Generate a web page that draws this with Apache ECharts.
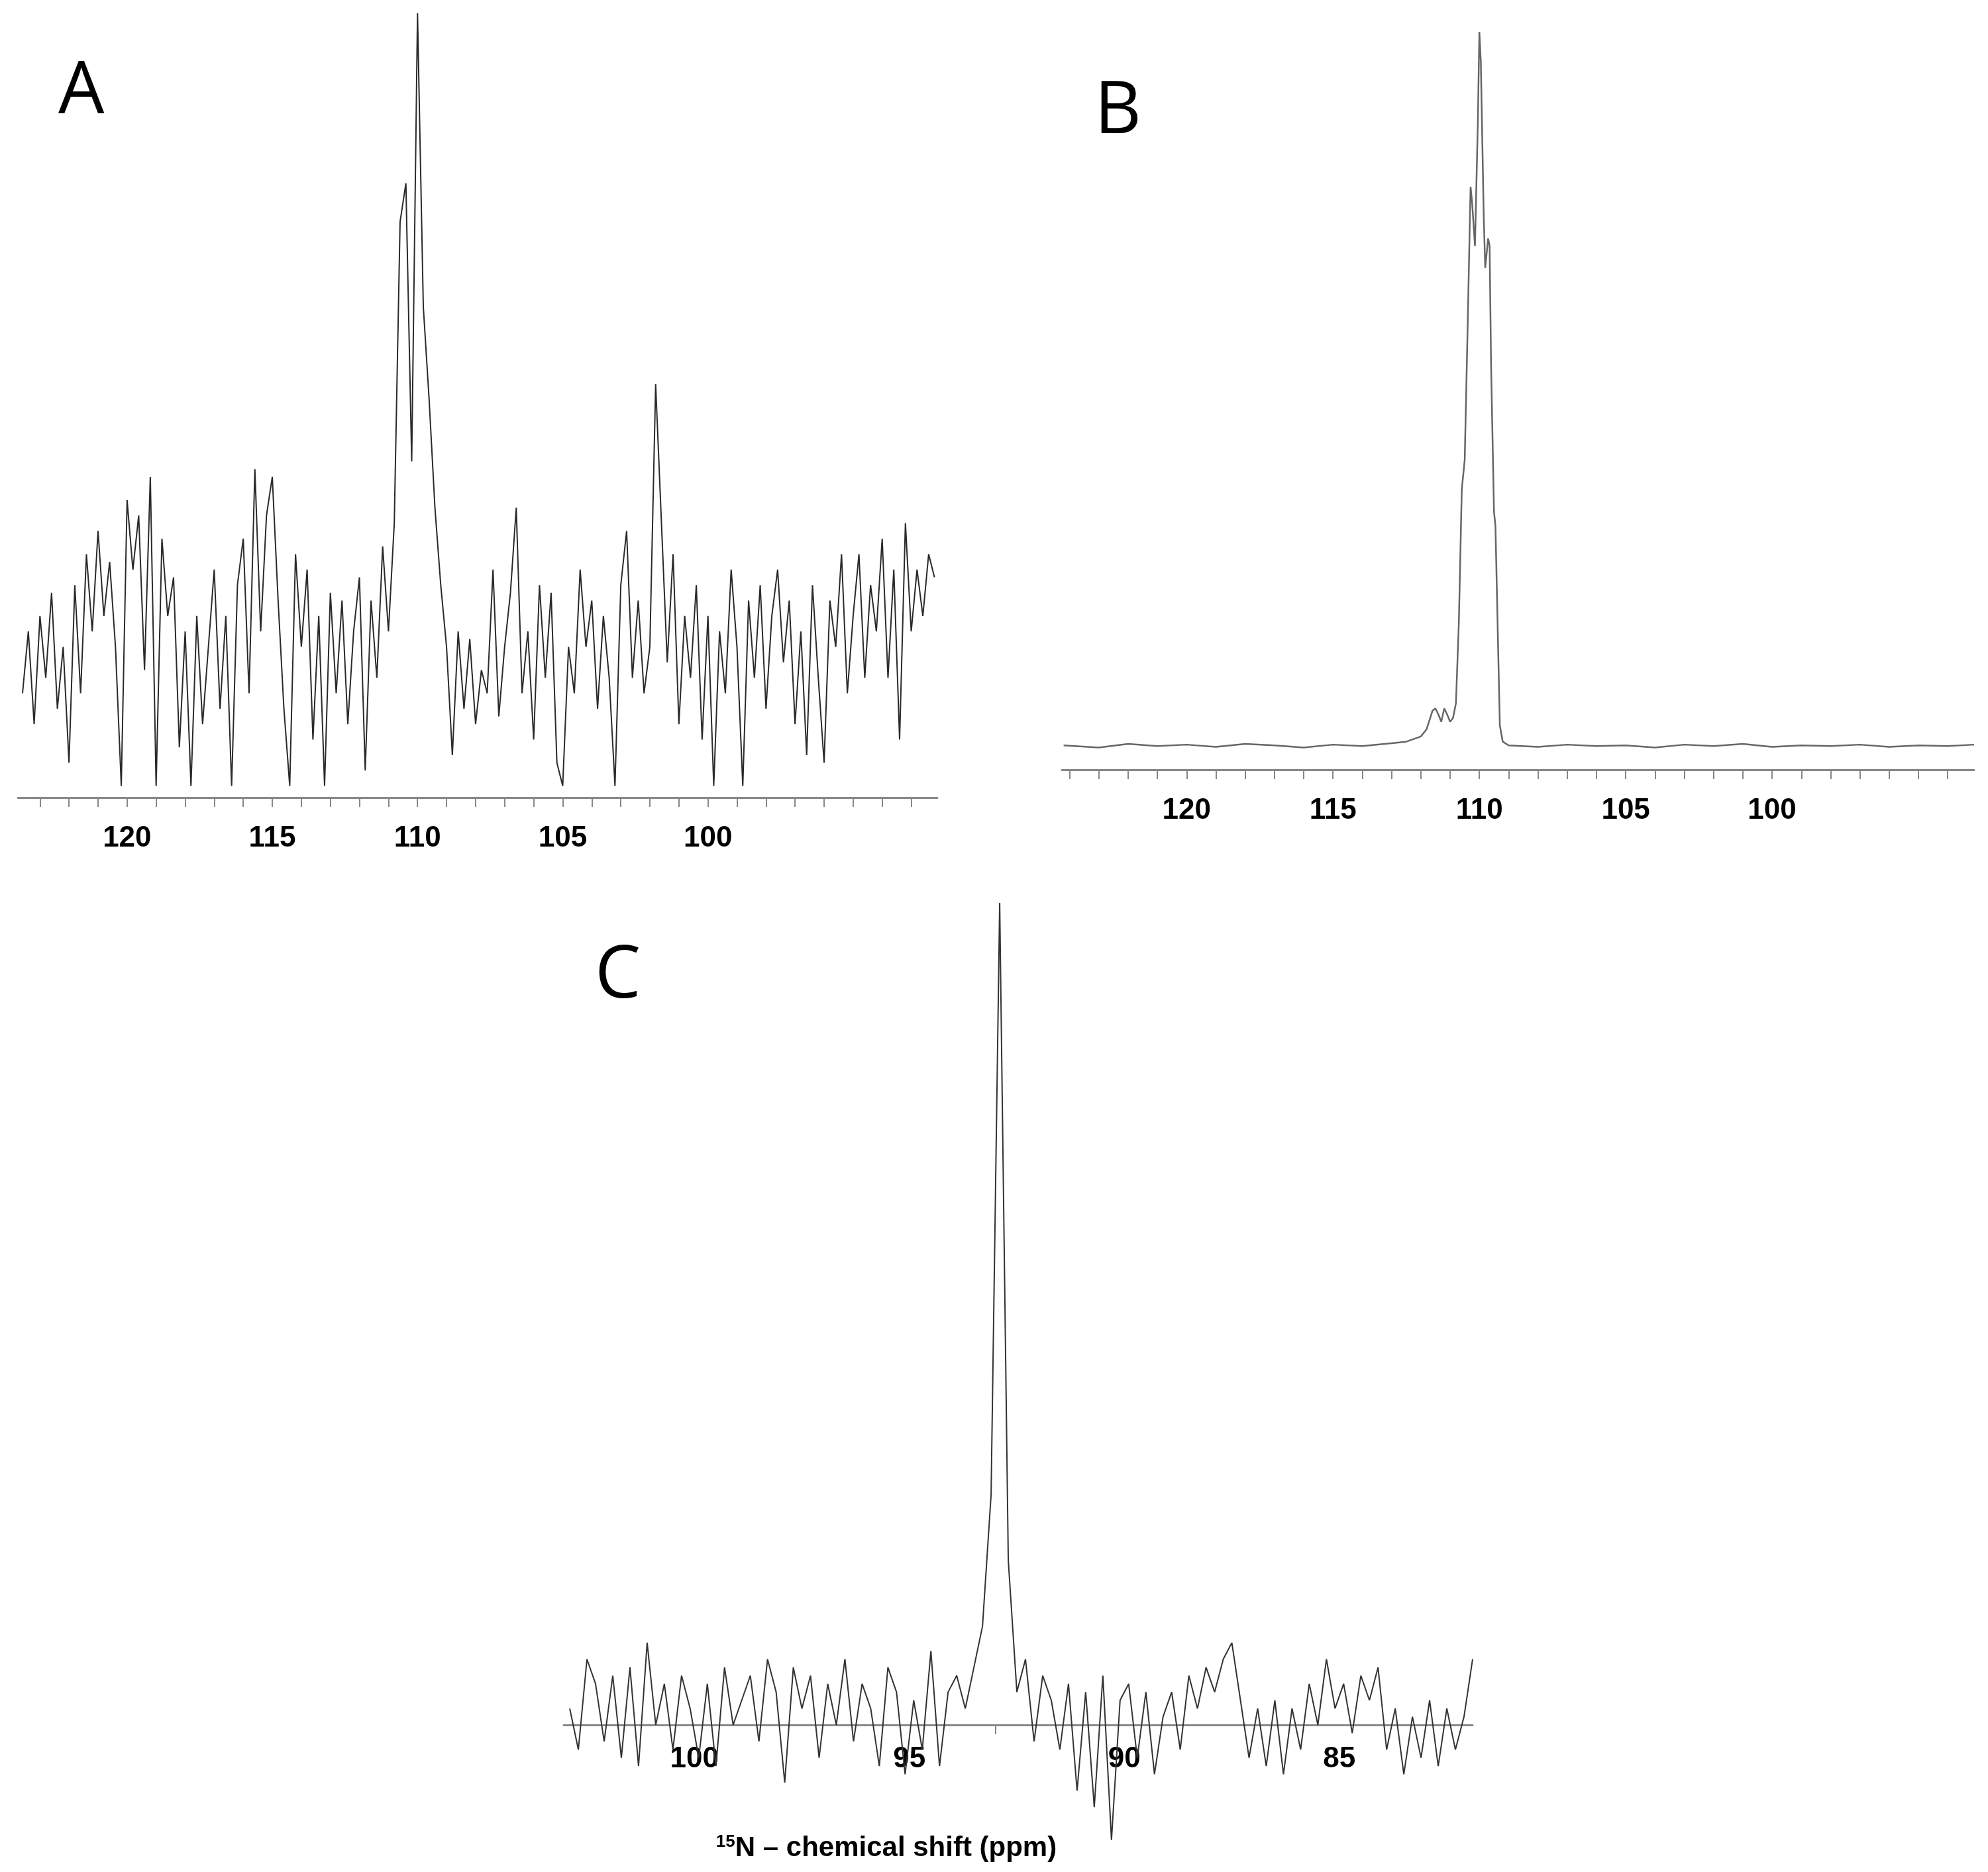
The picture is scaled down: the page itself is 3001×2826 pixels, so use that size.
<!DOCTYPE html>
<html>
<head>
<meta charset="utf-8">
<script src="https://cdn.jsdelivr.net/npm/echarts@6/dist/echarts.min.js"></script>
<style>html,body{margin:0;padding:0;background:#fff}#chart{width:3001px;height:2826px}</style>
</head>
<body>
<div id="chart"></div>
<script>
// spectrum A: sampled every 0.2 ppm starting at 123.6 ppm
const aStart = 123.6, aStep = 0.2;
const aValues = [12,20,8,22,14,25,10,18,3,26,12,30,20,33,22,29,18,0,37,28,
  35,15,40,0,32,22,27,5,20,0,22,8,18,28,10,22,0,26,32,12,
  41,20,35,40,24,10,0,30,18,28,6,22,0,25,12,24,8,20,27,2,
  24,14,31,20,34,73,78,42,100,62,50,36,26,18,4,20,10,19,8,15,
  12,28,9,18,25,36,12,20,6,26,14,25,3,0,18,12,28,18,24,10,
  22,14,0,26,33,14,24,12,18,52,34,16,30,8,22,14,26,6,22,0,
  20,12,28,18,0,24,14,26,10,22,28,16,24,8,20,4,26,14,3,24,
  18,30,12,22,30,14,26,20,32,14,28,6,34,20,28,22,30,27];

// spectrum B: [ppm, intensity]
const bPoints = [[124.2,3.3],[123.0,3.0],[122.0,3.5],[121.0,3.2],[120.0,3.4],[119.0,3.1],[118.0,3.5],
  [117.0,3.3],[116.0,3.0],[115.0,3.4],[114.0,3.2],[113.0,3.6],[112.5,3.8],[112.0,4.5],[111.8,5.5],
  [111.6,8.0],[111.5,8.3],[111.4,7.5],[111.3,6.5],[111.2,8.3],[111.1,7.5],[111.0,6.5],[110.9,7.0],
  [110.8,9],[110.7,20],[110.6,38],[110.5,42],[110.4,60],[110.3,79],[110.25,77],[110.15,71],[110.05,88],
  [110.0,100],[109.95,96],[109.85,75],[109.8,68],[109.7,72],[109.65,71],[109.6,55],[109.5,35],
  [109.45,33],[109.35,15],[109.3,6],[109.2,3.8],[109.0,3.3],[108,3.1],[107,3.4],[106,3.2],[105,3.3],
  [104,3.0],[103,3.4],[102,3.2],[101,3.5],[100,3.1],[99,3.3],[98,3.2],[97,3.4],[96,3.1],[95,3.3],
  [94,3.2],[93.1,3.4]];

// spectrum C: sampled every 0.2 ppm starting at 102.9 ppm
const cStart = 102.9, cStep = 0.2;
const cValues = [2,-3,8,5,-2,6,-4,7,-5,10,0,5,-3,6,2,-4,5,-5,7,0,
  3,6,-2,8,4,-7,7,2,6,-4,5,0,8,-2,5,2,-5,7,4,-6,
  3,-3,9,-5,4,6,2,7,12,28,100,20,4,8,-2,6,3,-3,5,-8,
  4,-10,6,-14,3,5,-4,4,-6,1,4,-3,6,2,7,4,8,10,3,-4,
  2,-5,3,-6,2,-3,5,0,8,2,5,-1,6,3,7,-3,2,-6,1,-4,
  3,-5,2,-3,1,8];

const aTicks = [100,105,110,115,120];
const bTicks = [100,105,110,115,120];
const cTicks = [85,90,95,100];

const toPairs = (start, step, vals) => vals.map((v, i) => [+(start - i * step).toFixed(2), v]);

const range = (lo, hi) => { const r = []; for (let v = lo; v <= hi; v++) r.push(v); return r; };

function xAxisFor(idx, min, max, labels, ticks, margin) {
  return {
    gridIndex: idx, type: 'value', inverse: true, min: min, max: max,
    axisLine: {onZero: false, lineStyle: {color: '#888', width: 3}},
    axisTick: {show: true, customValues: ticks, length: 14, lineStyle: {color: '#888', width: 2}},
    axisLabel: {customValues: labels, margin: margin, fontSize: 44, fontWeight: 'bold', color: '#000', fontFamily: 'Liberation Sans'},
    splitLine: {show: false}
  };
}

const chart = echarts.init(document.getElementById('chart'), null, {renderer: 'canvas'});
chart.setOption({
  animation: false,
  backgroundColor: '#fff',
  grid: [
    {left: 27, top: 20, width: 1388, height: 1184},
    {left: 1603, top: 48, width: 1377, height: 1114},
    {left: 851, top: 1363, width: 1372, height: 1241}
  ],
  xAxis: [
    xAxisFor(0, 92.1, 123.76, aTicks, range(93, 123), 40),
    xAxisFor(1, 93.1, 124.26, bTicks, range(94, 124), 40),
    xAxisFor(2, 81.9, 103.04, cTicks, [93], 30)
  ],
  yAxis: [
    {gridIndex: 0, type: 'value', min: -1.5, max: 100, show: false},
    {gridIndex: 1, type: 'value', min: 0, max: 100, show: false},
    {gridIndex: 2, type: 'value', min: 0, max: 100, show: false}
  ],
  series: [
    {type: 'line', xAxisIndex: 0, yAxisIndex: 0, data: toPairs(aStart, aStep, aValues), showSymbol: false,
      lineStyle: {color: '#2a2a2a', width: 2}},
    {type: 'line', xAxisIndex: 1, yAxisIndex: 1, data: bPoints, showSymbol: false,
      lineStyle: {color: '#666', width: 2.5}},
    {type: 'line', xAxisIndex: 2, yAxisIndex: 2, data: toPairs(cStart, cStep, cValues), showSymbol: false,
      clip: false, lineStyle: {color: '#333', width: 2}}
  ],
  graphic: [
    {type: 'text', left: 88, top: 85, style: {text: 'A', fontSize: 110, fontFamily: 'Open Sans', fill: '#000'}},
    {type: 'text', left: 1652, top: 115, style: {text: 'B', fontSize: 110, fontFamily: 'Open Sans', fill: '#000'}},
    {type: 'text', left: 898, top: 1420, style: {text: 'C', fontSize: 110, fontFamily: 'Open Sans', fill: '#000'}},
    {type: 'text', x: 1338, y: 2790, style: {
      text: '{sup|15}{t|N – chemical shift (ppm)}', align: 'center', verticalAlign: 'middle',
      rich: {
        sup: {fontSize: 26, fontWeight: 'bold', fontFamily: 'Liberation Sans', fill: '#000', verticalAlign: 'top', padding: [0, 0, 18, 0]},
        t: {fontSize: 42, fontWeight: 'bold', fontFamily: 'Liberation Sans', fill: '#000'}
      }}}
  ]
});
</script>
</body>
</html>
